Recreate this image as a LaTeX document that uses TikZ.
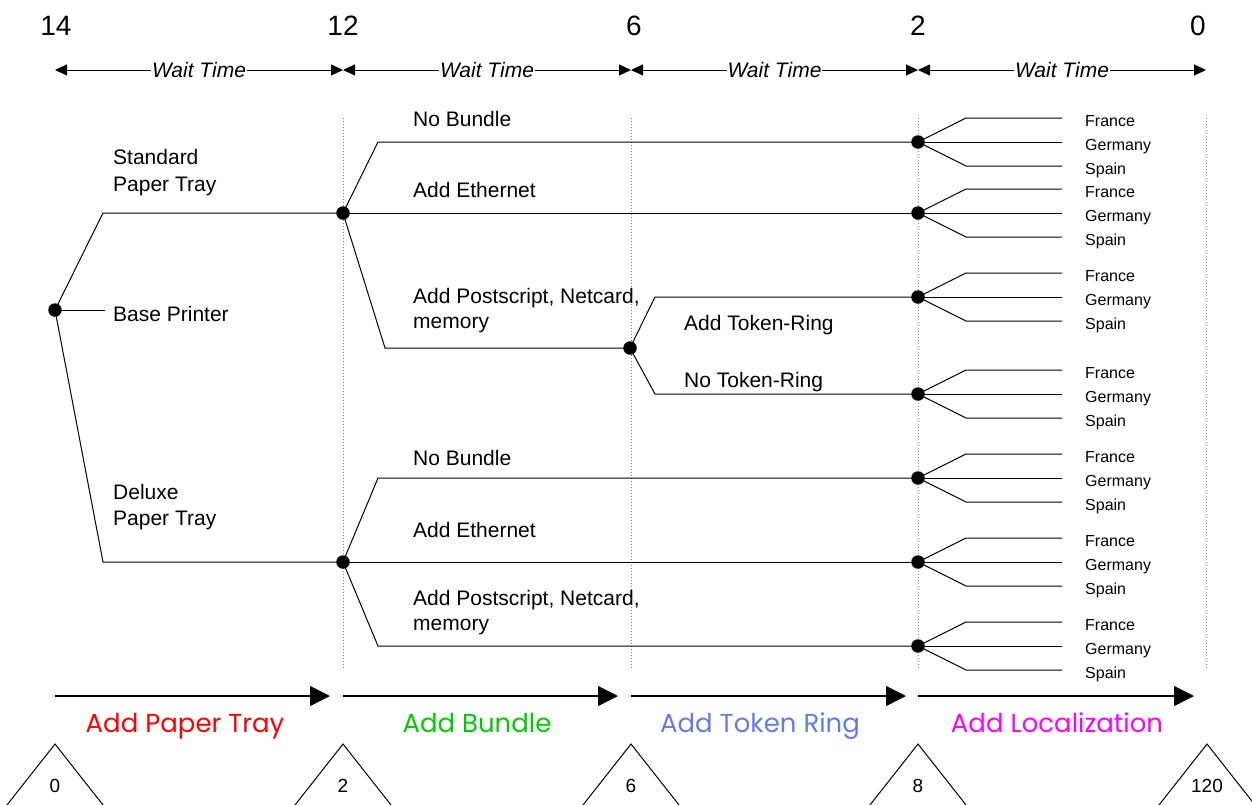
\documentclass[tikz,border=0pt]{standalone}
\usepackage{fontspec}
\setmainfont{Liberation Sans}
\newfontfamily\stagefont{Poppins}
\usetikzlibrary{arrows.meta}
\definecolor{stagered}{RGB}{255,0,0}
\definecolor{stagegreen}{RGB}{0,204,0}
\definecolor{stageblue}{RGB}{102,122,230}
\definecolor{stagemag}{RGB}{255,0,255}
\begin{document}
\begin{tikzpicture}[x=1pt,y=-1pt,
  dot/.style={circle,fill=black,inner sep=0pt,minimum size=13.5pt},
  link/.style={line width=1pt},
  lbl/.style={anchor=base west,inner sep=0pt,font=\fontsize{21}{25}\selectfont},
  country/.style={anchor=base west,inner sep=0pt,font=\fontsize{16}{19}\selectfont},
  topnum/.style={anchor=base,inner sep=0pt,font=\fontsize{28}{32}\selectfont},
  wait/.style={line width=1pt,{Triangle[length=12pt,width=11pt]}-{Triangle[length=12pt,width=11pt]}},
  waitlbl/.style={fill=white,inner xsep=1pt,inner ysep=2pt,font=\fontsize{21}{25}\selectfont\itshape},
  stage/.style={line width=1.2pt,-{Triangle[length=20pt,width=20pt]}},
  stagelbl/.style={anchor=base,inner sep=0pt,font=\stagefont\fontsize{26}{30}\selectfont},
  tri/.style={line width=1pt},
  trinum/.style={anchor=base,inner sep=0pt,font=\fontsize{19}{22}\selectfont},
  guide/.style={gray,dotted,line width=1pt}
]
\useasboundingbox (0,0) rectangle (1252,804);

% top numbers
\node[topnum] (n14) at (56,35) {14};
\node[topnum] (n12) at (343,35) {12};
\node[topnum] (n6) at (634,35) {6};
\node[topnum] (n2) at (918,35) {2};
\node[topnum] (n0) at (1198,35) {0};

% wait time arrows
\coordinate (w0) at (55,70);
\coordinate (w1) at (343,70);
\coordinate (w2) at (631,70);
\coordinate (w3) at (918,70);
\coordinate (w4) at (1206,70);
\draw[wait] (w0) -- node[waitlbl] {Wait Time} (w1);
\draw[wait] (w1) -- node[waitlbl] {Wait Time} (w2);
\draw[wait] (w2) -- node[waitlbl] {Wait Time} (w3);
\draw[wait] (w3) -- node[waitlbl] {Wait Time} (w4);

% dotted guides
\foreach \gx in {343,631,918,1206} {
  \draw[guide] (\gx,118) -- (\gx,668);
}

% tree nodes
\node[dot] (base) at (55,310) {};
\node[dot] (std) at (343,213) {};
\node[dot] (dlx) at (343,562) {};
\node[dot] (ps) at (630,348) {};
\foreach \i/\y in {1/142,2/213,3/297,4/394,5/478,6/562,7/646} {
  \node[dot] (e\i) at (918,\y) {};
}

% base printer
\coordinate (bstub) at (105,310);
\draw[link] (base.center) -- (bstub);
\node[lbl] (lbase) at (113,321) {Base Printer};
\draw[link] (base.center) -- (103,213) -- (std.center);
\node[lbl] (lstd1) at (113,164) {Standard};
\node[lbl] (lstd2) at (113,191) {Paper Tray};
\draw[link] (base.center) -- (103,562) -- (dlx.center);
\node[lbl] (ldlx1) at (113,499) {Deluxe};
\node[lbl] (ldlx2) at (113,525) {Paper Tray};

% standard tray branches
\draw[link] (std.center) -- (378,142) -- (e1.center);
\node[lbl] (lnb1) at (413,126) {No Bundle};
\draw[link] (std.center) -- (e2.center);
\node[lbl] (leth1) at (413,197) {Add Ethernet};
\draw[link] (std.center) -- (385,348) -- (ps.center);
\node[lbl] (lps1a) at (413,303) {Add Postscript, Netcard,};
\node[lbl] (lps1b) at (413,328) {memory};

% token ring branches
\draw[link] (ps.center) -- (655,297) -- (e3.center);
\node[lbl] (ltr) at (684,330) {Add Token-Ring};
\draw[link] (ps.center) -- (655,394) -- (e4.center);
\node[lbl] (lntr) at (684,387) {No Token-Ring};

% deluxe tray branches
\draw[link] (dlx.center) -- (378,478) -- (e5.center);
\node[lbl] (lnb2) at (413,465) {No Bundle};
\draw[link] (dlx.center) -- (e6.center);
\node[lbl] (leth2) at (413,537) {Add Ethernet};
\draw[link] (dlx.center) -- (378,646) -- (e7.center);
\node[lbl] (lps2a) at (413,605) {Add Postscript, Netcard,};
\node[lbl] (lps2b) at (413,630) {memory};

% localization fans
\foreach \i/\y in {1/142,2/213,3/297,4/394,5/478,6/562,7/646} {
  \coordinate (fa\i) at (1062,\y-24);
  \coordinate (fb\i) at (1062,\y);
  \coordinate (fc\i) at (1062,\y+24);
  \draw[link] (e\i.center) -- (966,\y-24) -- (fa\i);
  \draw[link] (e\i.center) -- (fb\i);
  \draw[link] (e\i.center) -- (966,\y+24) -- (fc\i);
  \node[country] (cfr\i) at (1085,\y-16) {France};
  \node[country] (cde\i) at (1085,\y+8) {Germany};
  \node[country] (ces\i) at (1085,\y+32) {Spain};
}

% stage arrows
\coordinate (s0a) at (55,696);   \coordinate (s0b) at (330,696);
\coordinate (s1a) at (343,696);  \coordinate (s1b) at (618,696);
\coordinate (s2a) at (631,696);  \coordinate (s2b) at (906,696);
\coordinate (s3a) at (918,696);  \coordinate (s3b) at (1194,696);
\draw[stage] (s0a) -- (s0b);
\draw[stage] (s1a) -- (s1b);
\draw[stage] (s2a) -- (s2b);
\draw[stage] (s3a) -- (s3b);
\node[stagelbl,text=stagered] (st0) at (185,732) {Add Paper Tray};
\node[stagelbl,text=stagegreen] (st1) at (477,732) {Add Bundle};
\node[stagelbl,text=stageblue] (st2) at (760,732) {Add Token Ring};
\node[stagelbl,text=stagemag] (st3) at (1057,732) {Add Localization};

% bottom triangles
\foreach \tx/\tn in {55/0,343/2,631/6,918/8,1207/120} {
  \draw[tri] (\tx-63,824) -- (\tx,744) -- (\tx+63,824);
  \node[trinum] at (\tx,792) {\tn};
}
\end{tikzpicture}
\end{document}
